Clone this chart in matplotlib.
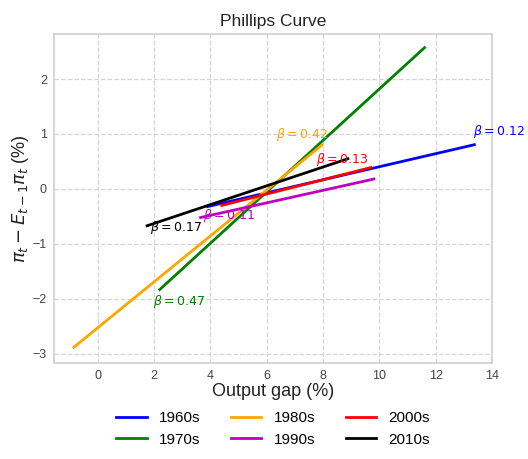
import matplotlib
matplotlib.use('Agg')
import matplotlib.pyplot as plt

# decades and their fitted line end points
decades = ['1960s', '1970s', '1980s', '1990s', '2000s', '2010s']
colors = ['blue', 'green', 'orange', 'm', 'red', 'black']
x_start = [3.9, 2.2, -0.85, 3.65, 4.4, 1.75]
x_end = [13.37, 11.6, 7.96, 9.8, 9.7, 8.88]
y_start = [-0.32, -1.83, -2.88, -0.52, -0.30, -0.67]
y_end = [0.805, 2.57, 0.80, 0.18, 0.39, 0.55]
betas = [0.12, 0.47, 0.42, 0.11, 0.13, 0.17]
# where the beta labels sit
label_x = [13.33, 1.95, 6.31, 3.72, 7.73, 1.84]
label_y = [1.04, -2.05, 0.99, -0.49, 0.53, -0.70]

plt.rcParams['font.family'] = ['Liberation Sans', 'DejaVu Sans']

fig = plt.figure(figsize=(5.28, 4.59), dpi=100)
ax = fig.add_axes([0.102, 0.21, 0.830, 0.716])

for i in range(len(decades)):
    ax.plot([x_start[i], x_end[i]], [y_start[i], y_end[i]],
            color=colors[i], lw=2, label=decades[i])
    ax.text(label_x[i], label_y[i], r'$\beta = %.2f$' % betas[i],
            color=colors[i], fontsize=9, ha='left', va='center')

ax.set_xticks([0, 2, 4, 6, 8, 10, 12, 14])
ax.set_yticks([-3, -2, -1, 0, 1, 2])
ax.set_xlim(-1.56, 14.0)
ax.set_ylim(-3.16, 2.82)
ax.grid(True, linestyle='--', color='#d6d6d6', lw=0.9)
for s in ax.spines.values():
    s.set_color('#d0d0d0')
    s.set_linewidth(1.2)
ax.tick_params(colors='#444444', labelsize=9, length=0, pad=5)
ax.set_title('Phillips Curve', fontsize=12.5, color='#222222')
ax.set_xlabel('Output gap (%)', fontsize=13, color='#222222', labelpad=1)
ax.set_ylabel(r'$\pi_t - E_{t-1}\pi_t$ (%)', fontsize=13, color='#222222',
              labelpad=1)

# legend below the plot, 3 columns
ax.legend(ncol=3, frameon=False, fontsize=11, loc='upper center',
          bbox_to_anchor=(0.5, -0.105), handlelength=2.0, columnspacing=2.0)

fig.savefig('out.png', dpi=100)
